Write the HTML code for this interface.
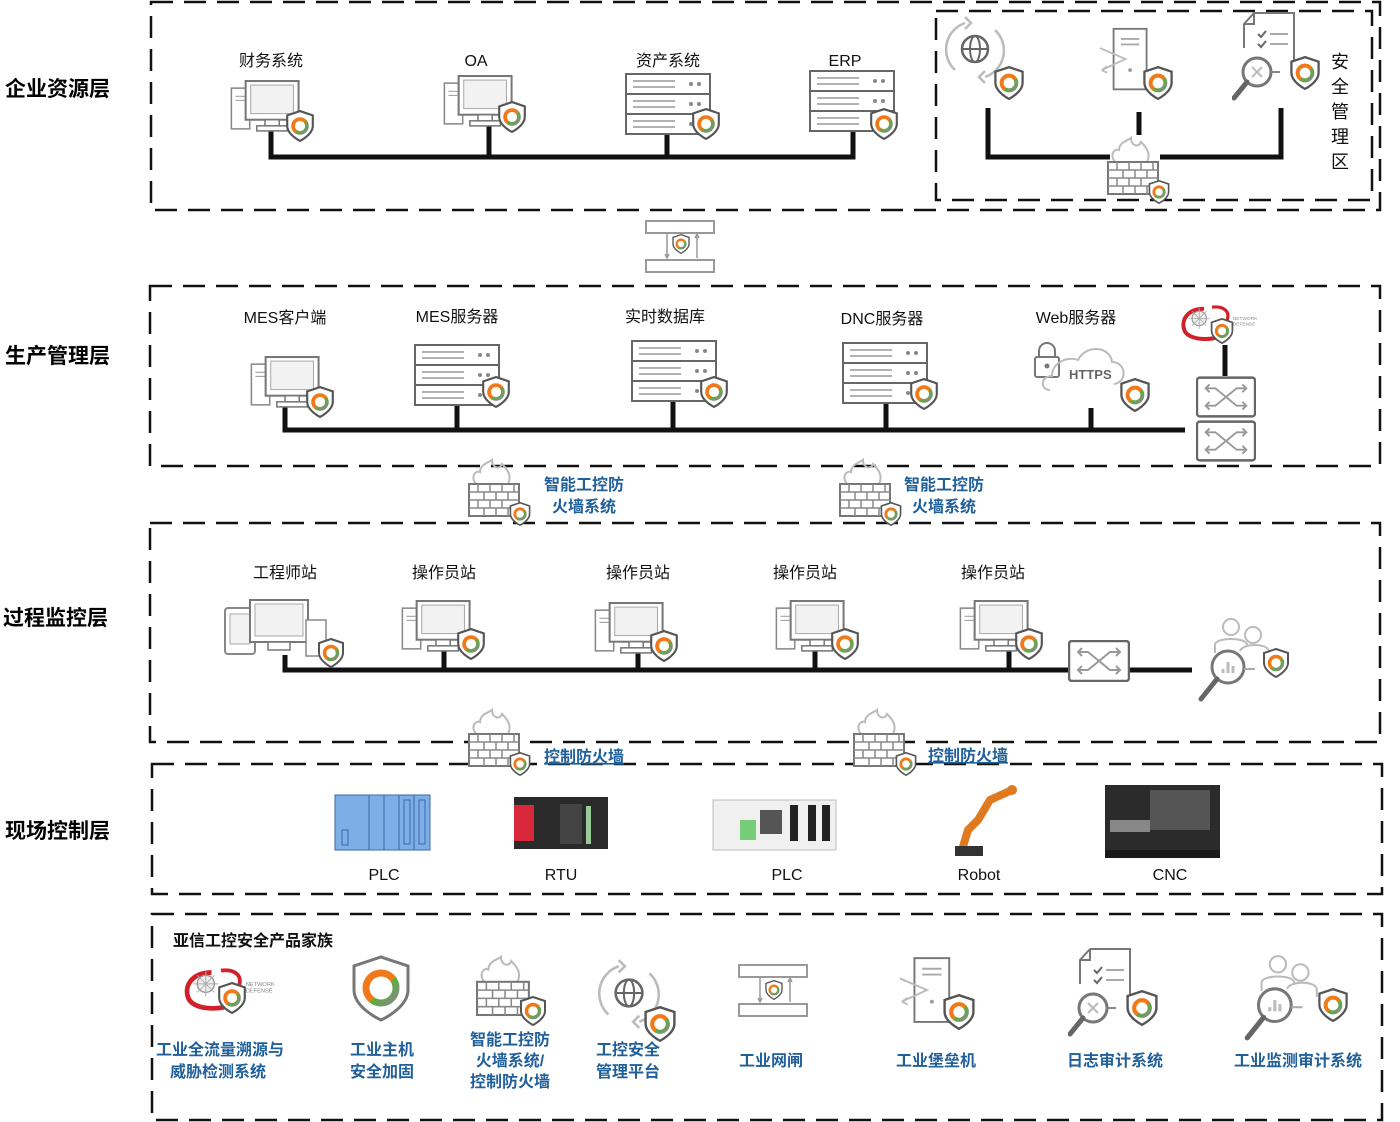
<!DOCTYPE html>
<html><head><meta charset="utf-8"><style>
html,body{margin:0;padding:0;background:#fff;}
svg{display:block;font-family:"Liberation Sans","Noto Sans CJK SC",sans-serif;}
.lb{font-size:16px;fill:#111;text-anchor:middle;}
.bl{font-size:16px;fill:#1f5f9a;text-anchor:middle;font-weight:bold;}
.ly{font-size:21px;font-weight:bold;fill:#000;}
.dash{fill:none;stroke:#111;stroke-width:2.5;stroke-dasharray:22 11;}
.bus{stroke:#111;stroke-width:5;fill:none;}
</style></head><body>
<svg width="1400" height="1122" viewBox="0 0 1400 1122">
<defs>
<linearGradient id="rg" x1="0" y1="0" x2="1" y2="1"><stop offset="0" stop-color="#f07a1a"/><stop offset="0.55" stop-color="#f07a1a"/><stop offset="0.56" stop-color="#5ab03a"/><stop offset="1" stop-color="#888"/></linearGradient>
<symbol id="sh" viewBox="0 0 26 30"><path d="M13 1 L25 5 V15 C25 23 13 29 13 29 C13 29 1 23 1 15 V5 Z" fill="#fff" stroke="#555" stroke-width="2"/><circle cx="13" cy="15" r="6.5" fill="none" stroke="url(#rg)" stroke-width="3.5"/></symbol>
<symbol id="pc" viewBox="0 0 70 55"><rect x="1" y="8" width="18" height="40" fill="#fff" stroke="#888" stroke-width="1.5"/><line x1="5" y1="16" x2="14" y2="16" stroke="#999"/><line x1="5" y1="20" x2="14" y2="20" stroke="#999"/><rect x="15" y="1" width="52" height="38" fill="#fff" stroke="#777" stroke-width="2"/><rect x="20" y="5" width="42" height="28" fill="#f2f2f2" stroke="#aaa"/><rect x="34" y="39" width="14" height="6" fill="#fff" stroke="#777" stroke-width="1.5"/><rect x="26" y="45" width="30" height="5" fill="#fff" stroke="#777" stroke-width="1.5"/></symbol>
<symbol id="srv" viewBox="0 0 86 62"><g fill="#fff" stroke="#666" stroke-width="2"><rect x="1" y="1" width="84" height="20"/><rect x="1" y="21" width="84" height="20"/><rect x="1" y="41" width="84" height="20"/></g><g stroke="#999" stroke-width="1.5"><line x1="8" y1="8" x2="50" y2="8"/><line x1="8" y1="14" x2="50" y2="14"/><line x1="8" y1="28" x2="50" y2="28"/><line x1="8" y1="34" x2="50" y2="34"/><line x1="8" y1="48" x2="50" y2="48"/><line x1="8" y1="54" x2="50" y2="54"/></g><g fill="#888"><circle cx="66" cy="11" r="2"/><circle cx="74" cy="11" r="2"/><circle cx="66" cy="31" r="2"/><circle cx="74" cy="31" r="2"/><circle cx="66" cy="51" r="2"/><circle cx="74" cy="51" r="2"/></g></symbol>
<symbol id="fw" viewBox="0 0 54 58"><path d="M8 24 C2 16 8 10 12 12 C12 4 22 2 24 0 C24 8 32 10 34 4 C40 10 44 16 40 24" fill="none" stroke="#bbb" stroke-width="2"/><rect x="1" y="24" width="50" height="32" fill="#fff" stroke="#777" stroke-width="2"/><g stroke="#888" stroke-width="1.5"><line x1="1" y1="32" x2="51" y2="32"/><line x1="1" y1="40" x2="51" y2="40"/><line x1="1" y1="48" x2="51" y2="48"/><line x1="10" y1="24" x2="10" y2="32"/><line x1="22" y1="24" x2="22" y2="32"/><line x1="34" y1="24" x2="34" y2="32"/><line x1="46" y1="24" x2="46" y2="32"/><line x1="16" y1="32" x2="16" y2="40"/><line x1="28" y1="32" x2="28" y2="40"/><line x1="40" y1="32" x2="40" y2="40"/><line x1="10" y1="40" x2="10" y2="48"/><line x1="22" y1="40" x2="22" y2="48"/><line x1="34" y1="40" x2="34" y2="48"/><line x1="16" y1="48" x2="16" y2="56"/><line x1="28" y1="48" x2="28" y2="56"/><line x1="40" y1="48" x2="40" y2="56"/></g></symbol>
<symbol id="sw" viewBox="0 0 62 42"><rect x="1" y="1" width="60" height="40" rx="3" fill="#fff" stroke="#666" stroke-width="2.5"/><path d="M10 12 H20 L42 30 H52 M10 30 H20 L42 12 H52 M14 8 L10 12 L14 16 M48 8 L52 12 L48 16 M14 26 L10 30 L14 34 M48 26 L52 30 L48 34" fill="none" stroke="#999" stroke-width="2"/></symbol>
<symbol id="glob" viewBox="0 0 60 70"><path d="M10 55 A28 28 0 0 1 20 8 M50 15 A28 28 0 0 1 40 62" fill="none" stroke="#bbb" stroke-width="2.5"/><path d="M20 2 L26 8 L20 14 M40 56 L34 62 L40 68" fill="none" stroke="#bbb" stroke-width="2.5"/><circle cx="30" cy="34" r="13" fill="#fff" stroke="#666" stroke-width="2.5"/><ellipse cx="30" cy="34" rx="5" ry="13" fill="none" stroke="#666" stroke-width="2"/><line x1="17" y1="34" x2="43" y2="34" stroke="#666" stroke-width="2"/></symbol>
<symbol id="doc" viewBox="0 0 60 70"><rect x="17" y="1" width="36" height="66" fill="#fff" stroke="#777" stroke-width="2"/><line x1="25" y1="12" x2="45" y2="12" stroke="#aaa" stroke-width="2"/><line x1="25" y1="18" x2="45" y2="18" stroke="#aaa" stroke-width="2"/><circle cx="35" cy="46" r="2" fill="#999"/><path d="M2 22 L30 34 L4 46 M4 46 L10 42 M4 46 L10 49" fill="none" stroke="#bbb" stroke-width="2"/></symbol>
<symbol id="aud" viewBox="0 0 70 95"><path d="M22 1 H62 V50 M22 1 L12 12 V36" fill="#fff" stroke="#777" stroke-width="2"/><path d="M12 12 H22 V1" fill="none" stroke="#777" stroke-width="2"/><path d="M26 22 L29 25 L34 19 M26 32 L29 35 L34 29" fill="none" stroke="#666" stroke-width="2"/><line x1="38" y1="22" x2="56" y2="22" stroke="#aaa" stroke-width="2"/><line x1="38" y1="32" x2="56" y2="32" stroke="#aaa" stroke-width="2"/><circle cx="25" cy="60" r="14" fill="#fff" stroke="#777" stroke-width="3"/><path d="M20 55 L30 65 M30 55 L20 65" stroke="#bbb" stroke-width="2"/><line x1="15" y1="70" x2="2" y2="86" stroke="#666" stroke-width="5" stroke-linecap="round"/><line x1="39" y1="60" x2="48" y2="60" stroke="#888" stroke-width="2"/></symbol>
<symbol id="mon" viewBox="0 0 80 90"><circle cx="36" cy="12" r="8" fill="none" stroke="#bbb" stroke-width="2"/><path d="M20 38 V30 C20 22 52 22 52 30" fill="none" stroke="#bbb" stroke-width="2"/><circle cx="58" cy="20" r="8" fill="none" stroke="#bbb" stroke-width="2"/><path d="M45 36 C48 28 72 28 74 36 V44" fill="none" stroke="#bbb" stroke-width="2"/><circle cx="33" cy="52" r="16" fill="#fff" stroke="#777" stroke-width="3"/><g stroke="#bbb" stroke-width="3"><line x1="28" y1="58" x2="28" y2="54"/><line x1="33" y1="58" x2="33" y2="47"/><line x1="38" y1="58" x2="38" y2="51"/></g><line x1="22" y1="64" x2="6" y2="84" stroke="#666" stroke-width="5" stroke-linecap="round"/><line x1="49" y1="54" x2="60" y2="54" stroke="#aaa" stroke-width="2"/></symbol>
<symbol id="nd" viewBox="0 0 100 50" overflow="visible"><path d="M30 6 C10 6 0 20 6 34 C14 48 50 46 62 34" fill="none" stroke="#d0202a" stroke-width="5"/><path d="M40 4 C55 2 64 10 58 22" fill="none" stroke="#d0202a" stroke-width="4"/><circle cx="24" cy="18" r="9" fill="#eee" stroke="#999" stroke-width="1.5"/><path d="M24 5 V31 M11 18 H37 M15 9 L33 27 M33 9 L15 27" stroke="#aaa" stroke-width="1"/><text x="66" y="20" font-size="6" fill="#888" font-family="Liberation Sans">NETWORK</text><text x="66" y="27" font-size="6" fill="#888" font-family="Liberation Sans">DEFENSE</text></symbol>
<symbol id="gate" viewBox="0 0 70 54"><rect x="1" y="1" width="68" height="12" fill="#fff" stroke="#999" stroke-width="2"/><rect x="1" y="40" width="68" height="12" fill="#fff" stroke="#999" stroke-width="2"/><path d="M22 14 V36 M20 34 L22 38 L24 34 M52 38 V16 M50 18 L52 14 L54 18" stroke="#999" stroke-width="1.5" fill="none"/></symbol>
</defs>

<rect class="dash" x="151" y="2" width="1229" height="208"/>
<rect class="dash" x="936" y="11" width="436" height="189"/>
<rect class="dash" x="150" y="286" width="1230" height="180"/>
<rect class="dash" x="150" y="523" width="1230" height="219"/>
<rect class="dash" x="152" y="764" width="1230" height="130"/>
<rect class="dash" x="152" y="914" width="1230" height="206"/>

<text class="ly" x="5" y="96">企业资源层</text>
<text class="ly" x="5" y="363">生产管理层</text>
<text class="ly" x="3" y="625">过程监控层</text>
<text class="ly" x="5" y="838">现场控制层</text>

<text class="lb" x="271" y="66">财务系统</text>
<text class="lb" x="476" y="66">OA</text>
<text class="lb" x="668" y="66">资产系统</text>
<text class="lb" x="845" y="66">ERP</text>
<path class="bus" d="M271 128 V157 H853 V130 M489 120 V157 M667 133 V157"/>
<use href="#pc" x="230" y="80" width="72" height="56"/><use href="#sh" x="286" y="110" width="28" height="32"/>
<use href="#pc" x="443" y="75" width="72" height="56"/><use href="#sh" x="498" y="101" width="28" height="32"/>
<use href="#srv" x="625" y="73" width="86" height="62"/><use href="#sh" x="692" y="108" width="28" height="32"/>
<use href="#srv" x="809" y="70" width="86" height="62"/><use href="#sh" x="870" y="108" width="28" height="32"/>

<path class="bus" d="M988 108 V157 H1110 M1160 157 H1281 V108 M1139 112 V135"/>
<use href="#glob" x="945" y="15" width="60" height="70"/><use href="#sh" x="994" y="66" width="30" height="34"/>
<use href="#doc" x="1098" y="25" width="55" height="70"/><use href="#sh" x="1143" y="66" width="30" height="34"/>
<use href="#aud" x="1232" y="12" width="70" height="95"/><use href="#sh" x="1290" y="56" width="30" height="34"/>
<use href="#fw" x="1107" y="136" width="54" height="62"/><use href="#sh" x="1148" y="180" width="22" height="24"/>
<g style="font-size:18px;fill:#111" text-anchor="middle"><text x="1340" y="68">安</text><text x="1340" y="93">全</text><text x="1340" y="118">管</text><text x="1340" y="143">理</text><text x="1340" y="168">区</text></g>

<use href="#gate" x="645" y="220" width="70" height="54"/><use href="#sh" x="672" y="234" width="18" height="20"/>

<text class="lb" x="285" y="323">MES客户端</text>
<text class="lb" x="457" y="322">MES服务器</text>
<text class="lb" x="665" y="322">实时数据库</text>
<text class="lb" x="882" y="324">DNC服务器</text>
<text class="lb" x="1076" y="323">Web服务器</text>
<path class="bus" d="M285 405 V430 H1185 M457 405 V430 M673 400 V430 M886 403 V430 M1091 408 V430"/>
<use href="#pc" x="250" y="356" width="72" height="56"/><use href="#sh" x="306" y="386" width="28" height="32"/>
<use href="#srv" x="414" y="344" width="86" height="62"/><use href="#sh" x="482" y="376" width="28" height="32"/>
<use href="#srv" x="631" y="340" width="86" height="62"/><use href="#sh" x="700" y="376" width="28" height="32"/>
<use href="#srv" x="842" y="342" width="86" height="62"/><use href="#sh" x="910" y="378" width="28" height="32"/>
<rect x="1035" y="357" width="24" height="20" rx="2" fill="#fff" stroke="#777" stroke-width="2"/><path d="M1039 357 V351 A8 8 0 0 1 1055 351 V357" fill="none" stroke="#777" stroke-width="2"/><circle cx="1047" cy="366" r="2.5" fill="#777"/>
<path d="M1050 390 C1040 390 1040 376 1052 376 C1052 362 1068 356 1078 360 C1086 344 1110 346 1112 362 C1126 362 1128 382 1114 384" fill="none" stroke="#bbb" stroke-width="2"/>
<text x="1069" y="379" font-size="13" font-weight="bold" fill="#666">HTTPS</text>
<use href="#sh" x="1120" y="378" width="30" height="34"/>
<use href="#nd" x="1180" y="300" width="80" height="48"/><use href="#sh" x="1210" y="318" width="24" height="26"/>
<path class="bus" d="M1225 345 V376"/>
<use href="#sw" x="1196" y="375" width="60" height="44"/><use href="#sw" x="1196" y="419" width="60" height="44"/>

<use href="#fw" x="468" y="458" width="54" height="62"/><use href="#sh" x="509" y="502" width="22" height="24"/>
<text class="bl" x="584" y="490">智能工控防</text><text class="bl" x="584" y="512">火墙系统</text>
<use href="#fw" x="839" y="458" width="54" height="62"/><use href="#sh" x="880" y="502" width="22" height="24"/>
<text class="bl" x="944" y="490">智能工控防</text><text class="bl" x="944" y="512">火墙系统</text>

<text class="lb" x="285" y="578">工程师站</text>
<text class="lb" x="444" y="578">操作员站</text>
<text class="lb" x="638" y="578">操作员站</text>
<text class="lb" x="805" y="578">操作员站</text>
<text class="lb" x="993" y="578">操作员站</text>
<path class="bus" d="M285 655 V670 H1068 M444 648 V670 M638 650 V670 M815 648 V670 M1009 648 V670 M1130 670 H1192"/>
<rect x="225" y="608" width="30" height="46" rx="3" fill="#fff" stroke="#888" stroke-width="2"/><rect x="230" y="614" width="20" height="30" fill="#f2f2f2" stroke="#aaa"/>
<rect x="250" y="600" width="58" height="42" fill="#fff" stroke="#777" stroke-width="2"/><rect x="255" y="604" width="48" height="32" fill="#f2f2f2" stroke="#aaa"/><rect x="268" y="642" width="22" height="8" fill="#fff" stroke="#777" stroke-width="1.5"/>
<rect x="306" y="620" width="20" height="36" fill="#fff" stroke="#888" stroke-width="1.5"/>
<use href="#sh" x="318" y="638" width="26" height="30"/>
<use href="#pc" x="401" y="600" width="72" height="56"/><use href="#sh" x="457" y="628" width="28" height="32"/>
<use href="#pc" x="594" y="602" width="72" height="56"/><use href="#sh" x="650" y="630" width="28" height="32"/>
<use href="#pc" x="775" y="600" width="72" height="56"/><use href="#sh" x="831" y="628" width="28" height="32"/>
<use href="#pc" x="959" y="600" width="72" height="56"/><use href="#sh" x="1015" y="628" width="28" height="32"/>
<use href="#sw" x="1068" y="640" width="62" height="42"/>
<use href="#mon" x="1195" y="615" width="80" height="90"/><use href="#sh" x="1263" y="648" width="26" height="30"/>

<use href="#fw" x="468" y="708" width="54" height="62"/><use href="#sh" x="509" y="752" width="22" height="24"/>
<text class="bl" x="584" y="762" style="text-decoration:underline">控制防火墙</text>
<use href="#fw" x="853" y="708" width="54" height="62"/><use href="#sh" x="895" y="752" width="22" height="24"/>
<text class="bl" x="968" y="761" style="text-decoration:underline">控制防火墙</text>

<rect x="335" y="795" width="95" height="55" fill="#7eaee6" stroke="#4a7ab8"/>
<g fill="none" stroke="#3a6aa8"><rect x="335" y="795" width="34" height="55"/><rect x="369" y="795" width="15" height="55"/><rect x="384" y="795" width="15" height="55"/><rect x="399" y="795" width="15" height="55"/><rect x="414" y="795" width="16" height="55"/><rect x="342" y="830" width="6" height="15"/><rect x="404" y="800" width="6" height="44"/><rect x="419" y="800" width="6" height="44"/></g>
<rect x="514" y="797" width="94" height="52" fill="#2a2a2a"/><rect x="514" y="805" width="20" height="36" fill="#d8283a"/><rect x="560" y="804" width="22" height="40" fill="#444"/><rect x="586" y="806" width="5" height="38" fill="#9c9"/>
<rect x="713" y="800" width="123" height="50" fill="#f0f0f0" stroke="#bbb"/><rect x="740" y="820" width="16" height="20" fill="#7c7"/><rect x="790" y="805" width="8" height="36" fill="#222"/><rect x="808" y="805" width="8" height="36" fill="#222"/><rect x="822" y="805" width="8" height="36" fill="#222"/><rect x="760" y="810" width="22" height="24" fill="#555"/>
<path d="M962 850 L968 830 L978 820 L990 800 L1012 790" fill="none" stroke="#e07a20" stroke-width="8"/><rect x="955" y="846" width="28" height="10" fill="#333"/><circle cx="1012" cy="790" r="5" fill="#e07a20"/>
<rect x="1105" y="785" width="115" height="70" fill="#2b2b2b"/><rect x="1150" y="790" width="60" height="40" fill="#555"/><rect x="1110" y="820" width="40" height="12" fill="#888"/><rect x="1105" y="850" width="115" height="8" fill="#1a1a1a"/>
<text class="lb" x="384" y="880">PLC</text>
<text class="lb" x="561" y="880">RTU</text>
<text class="lb" x="787" y="880">PLC</text>
<text class="lb" x="979" y="880">Robot</text>
<text class="lb" x="1170" y="880">CNC</text>

<text x="173" y="946" font-size="16" font-weight="bold" fill="#111">亚信工控安全产品家族</text>
<use href="#nd" x="183" y="963" width="95" height="55"/><use href="#sh" x="218" y="982" width="28" height="32"/>
<path d="M381 957 L408 966 V990 C408 1008 381 1020 381 1020 C381 1020 354 1008 354 990 V966 Z" fill="#fff" stroke="#777" stroke-width="3"/><circle cx="381" cy="988" r="15" fill="none" stroke="url(#rg)" stroke-width="7"/>
<use href="#fw" x="476" y="955" width="56" height="64"/><use href="#sh" x="520" y="996" width="26" height="30"/>
<use href="#glob" x="598" y="958" width="62" height="72"/><use href="#sh" x="644" y="1006" width="32" height="36"/>
<use href="#gate" x="738" y="963" width="70" height="56"/><use href="#sh" x="765" y="980" width="18" height="20"/>
<use href="#doc" x="898" y="955" width="58" height="72"/><use href="#sh" x="943" y="994" width="32" height="36"/>
<use href="#aud" x="1068" y="948" width="70" height="95"/><use href="#sh" x="1126" y="990" width="32" height="36"/>
<use href="#mon" x="1240" y="952" width="84" height="92"/><use href="#sh" x="1318" y="988" width="30" height="34"/>
<g class="bl">
<text x="220" y="1055">工业全流量溯源与</text><text x="218" y="1077">威胁检测系统</text>
<text x="382" y="1055">工业主机</text><text x="382" y="1077">安全加固</text>
<text x="510" y="1045">智能工控防</text><text x="510" y="1066">火墙系统/</text><text x="510" y="1087">控制防火墙</text>
<text x="628" y="1055">工控安全</text><text x="628" y="1077">管理平台</text>
<text x="771" y="1066">工业网闸</text>
<text x="936" y="1066">工业堡垒机</text>
<text x="1115" y="1066">日志审计系统</text>
<text x="1298" y="1066">工业监测审计系统</text>
</g>
</svg>
</body></html>
